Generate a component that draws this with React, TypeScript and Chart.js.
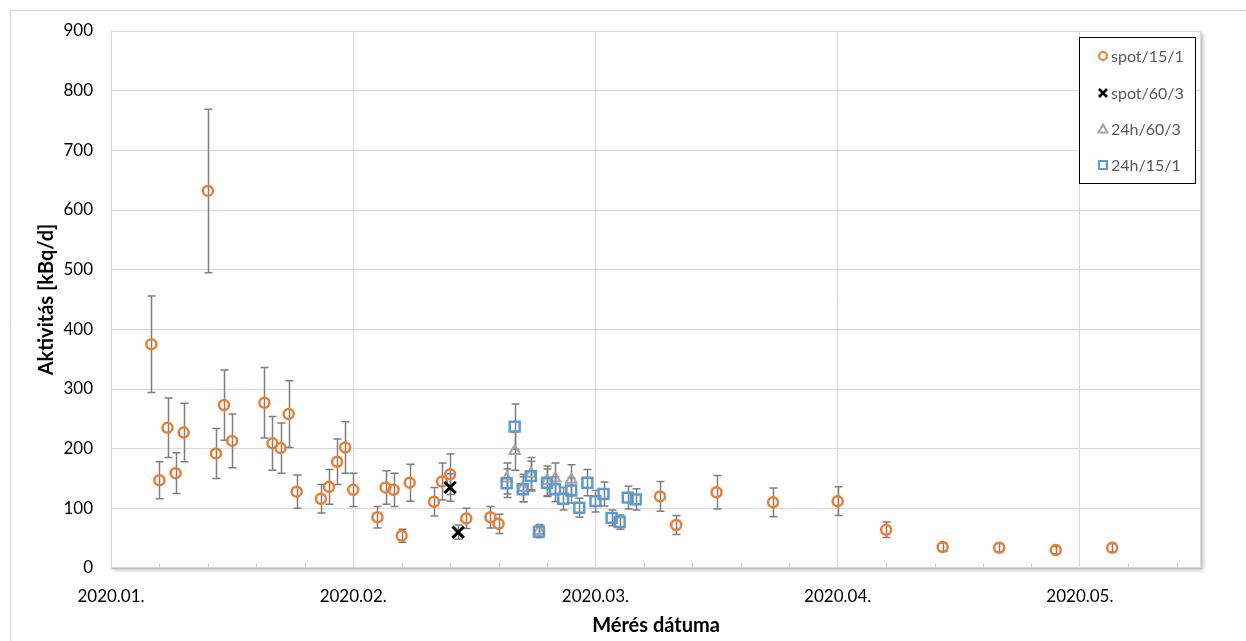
import { useEffect, useRef } from "react";
import { Chart, registerables } from "chart.js";

Chart.register(...registerables);

// ---- measurement data -------------------------------------------------------

// spot/15/1 samples
const spotShortDates = [
  "2020-01-07", "2020-01-08", "2020-01-09", "2020-01-10", "2020-01-11",
  "2020-01-14", "2020-01-15", "2020-01-16", "2020-01-17",
  "2020-01-21", "2020-01-22", "2020-01-23", "2020-01-24", "2020-01-25",
  "2020-01-28", "2020-01-29", "2020-01-30", "2020-01-31", "2020-02-01",
  "2020-02-04", "2020-02-05", "2020-02-06", "2020-02-07", "2020-02-08",
  "2020-02-11", "2020-02-12", "2020-02-13", "2020-02-15",
  "2020-02-18", "2020-02-19",
  "2020-03-10", "2020-03-12", "2020-03-17", "2020-03-24",
  "2020-04-01", "2020-04-07", "2020-04-14", "2020-04-21", "2020-04-28", "2020-05-05",
];
const spotShortValues = [
  375, 147, 235, 159, 227,
  632, 192, 273, 213,
  277, 209, 201, 258, 128,
  116, 136, 178, 202, 131,
  85, 135, 131, 54, 143,
  111, 145, 157, 83,
  85, 74,
  120, 72, 127, 110,
  112, 64, 35, 34, 30, 34,
];
const spotShortErrors = [
  81, 31, 50, 34, 49,
  137, 42, 59, 45,
  59, 45, 42, 56, 28,
  24, 29, 38, 43, 28,
  18, 28, 28, 11, 31,
  24, 31, 34, 17,
  18, 16,
  25, 16, 28, 24,
  24, 13, 7, 7, 6, 7,
];

// spot/60/3 samples
const spotLongDates = ["2020-02-13", "2020-02-14"];
const spotLongValues = [135, 60];
const spotLongErrors = [23, 12];

// 24h/60/3 samples
const dayLongDates = [
  "2020-02-20", "2020-02-21", "2020-02-22", "2020-02-23",
  "2020-02-24", "2020-02-25", "2020-02-26", "2020-02-28",
];
const dayLongValues = [150, 196, 134, 158, 62, 146, 150, 148];
const dayLongErrors = [26, 32, 23, 27, 11, 25, 26, 25];

// 24h/15/1 samples
const dayShortDates = [
  "2020-02-20", "2020-02-21", "2020-02-22", "2020-02-23", "2020-02-24",
  "2020-02-25", "2020-02-26", "2020-02-27", "2020-02-28", "2020-02-29",
  "2020-03-01", "2020-03-02", "2020-03-03", "2020-03-04", "2020-03-05",
  "2020-03-06", "2020-03-07",
];
const dayShortValues = [142, 237, 132, 154, 61, 143, 132, 116, 130, 101, 143, 112, 124, 84, 77, 118, 115];
const dayShortErrors = [24, 38, 21, 25, 10, 23, 21, 19, 21, 16, 22, 18, 20, 13, 12, 19, 18];

// axes
const xAxisStart = "2020-01-02";
const xAxisEnd = "2020-05-16";
const xTickDates = ["2020-01-02", "2020-02-01", "2020-03-02", "2020-04-01", "2020-05-01"];
const xTickLabels = ["2020.01.", "2020.02.", "2020.03.", "2020.04.", "2020.05."];
const xMinorStepDays = 6;
const yTickValues = [0, 100, 200, 300, 400, 500, 600, 700, 800, 900];

const seriesNames = ["spot/15/1", "spot/60/3", "24h/60/3", "24h/15/1"];

// ---- helpers ----------------------------------------------------------------

const DAY_MS = 86400000;
const EPOCH = Date.UTC(2020, 0, 1);
const toDay = (iso: string) => {
  const [y, m, d] = iso.split("-").map(Number);
  return (Date.UTC(y, m - 1, d) - EPOCH) / DAY_MS;
};
const points = (dates: string[], values: number[]) =>
  dates.map((d, i) => ({ x: toDay(d), y: values[i] }));

const FONT = "Lato, 'Open Sans', sans-serif";
const ORANGE = "#ED7D31";
const BLUE = "#5B9BD5";
const GREY = "#A5A5A5";
const BLACK = "#000000";

type Marker = "circle" | "crossRot" | "triangle" | "rect";

function drawLegendMarker(ctx: CanvasRenderingContext2D, kind: Marker, x: number, y: number, color: string) {
  ctx.save();
  ctx.strokeStyle = color;
  ctx.lineWidth = 2;
  ctx.beginPath();
  if (kind === "circle") {
    ctx.arc(x, y, 4, 0, Math.PI * 2);
  } else if (kind === "crossRot") {
    ctx.lineWidth = 2.5;
    ctx.moveTo(x - 4, y - 4);
    ctx.lineTo(x + 4, y + 4);
    ctx.moveTo(x + 4, y - 4);
    ctx.lineTo(x - 4, y + 4);
  } else if (kind === "triangle") {
    ctx.moveTo(x, y - 4.5);
    ctx.lineTo(x + 4.5, y + 3.5);
    ctx.lineTo(x - 4.5, y + 3.5);
    ctx.closePath();
  } else {
    ctx.rect(x - 4, y - 4, 8, 8);
  }
  ctx.stroke();
  ctx.restore();
}

// ---- chart plugins -----------------------------------------------------------

const framePlugin = {
  id: "frame",
  beforeDraw(chart: any) {
    const { ctx, chartArea: a, width, height } = chart;
    ctx.save();
    ctx.fillStyle = "#ffffff";
    ctx.fillRect(0, 0, width, height);
    // outer chart border
    ctx.strokeStyle = "#d9d9d9";
    ctx.lineWidth = 1;
    ctx.beginPath();
    ctx.moveTo(10.5, height);
    ctx.lineTo(10.5, 10.5);
    ctx.lineTo(width, 10.5);
    ctx.stroke();
    // plot area with soft shadow
    ctx.shadowColor = "rgba(0,0,0,0.28)";
    ctx.shadowBlur = 4;
    ctx.shadowOffsetX = 1.5;
    ctx.shadowOffsetY = 1.5;
    ctx.fillRect(a.left, a.top, a.right - a.left, a.bottom - a.top);
    ctx.restore();
  },
  beforeDatasetsDraw(chart: any) {
    const { ctx, chartArea: a, scales } = chart;
    const x = scales.x;
    const y = scales.y;
    ctx.save();
    // plot border
    ctx.strokeStyle = "#d9d9d9";
    ctx.lineWidth = 1;
    ctx.strokeRect(a.left + 0.5, a.top + 0.5, a.right - a.left - 1, a.bottom - a.top - 1);
    // minor tick marks on the date axis
    ctx.strokeStyle = "#cfcfcf";
    const start = toDay(xAxisStart);
    const end = toDay(xAxisEnd);
    for (let k = 1; start + k * xMinorStepDays < end; k++) {
      if (k % 5 === 0) continue;
      const px = Math.round(x.getPixelForValue(start + k * xMinorStepDays)) + 0.5;
      ctx.beginPath();
      ctx.moveTo(px, a.bottom);
      ctx.lineTo(px, a.bottom - 5);
      ctx.stroke();
    }
    // error bars
    ctx.strokeStyle = "#7f7f7f";
    ctx.lineWidth = 1.5;
    chart.data.datasets.forEach((ds: any) => {
      const errs: number[] | undefined = ds.errorBars;
      if (!errs) return;
      ds.data.forEach((p: { x: number; y: number }, i: number) => {
        const px = Math.round(x.getPixelForValue(p.x)) + 0.5;
        const top = y.getPixelForValue(p.y + errs[i]);
        const bot = y.getPixelForValue(Math.max(0, p.y - errs[i]));
        ctx.beginPath();
        ctx.moveTo(px, top);
        ctx.lineTo(px, bot);
        ctx.moveTo(px - 4, top);
        ctx.lineTo(px + 4, top);
        ctx.moveTo(px - 4, bot);
        ctx.lineTo(px + 4, bot);
        ctx.stroke();
      });
    });
    ctx.restore();
  },
  afterDraw(chart: any) {
    const { ctx, chartArea: a } = chart;
    ctx.save();
    // axis titles
    ctx.fillStyle = "#000000";
    ctx.font = `bold 20px ${FONT}`;
    ctx.textAlign = "center";
    ctx.textBaseline = "alphabetic";
    ctx.fillText("Mérés dátuma", (a.left + a.right) / 2, 632);
    ctx.save();
    ctx.translate(53, (a.top + a.bottom) / 2);
    ctx.rotate(-Math.PI / 2);
    ctx.fillText("Aktivitás [kBq/d]", 0, 0);
    ctx.restore();

    // legend box
    const bx = 1079.5;
    const by = 37.5;
    const bw = 116;
    const bh = 146;
    ctx.fillStyle = "#ffffff";
    ctx.fillRect(bx, by, bw, bh);
    ctx.strokeStyle = "#000000";
    ctx.lineWidth = 1;
    ctx.strokeRect(bx, by, bw, bh);
    const markers: Marker[] = ["circle", "crossRot", "triangle", "rect"];
    const colors = [ORANGE, BLACK, GREY, BLUE];
    const rows = [56, 93, 129, 165];
    ctx.font = `16px ${FONT}`;
    ctx.textAlign = "left";
    ctx.textBaseline = "middle";
    seriesNames.forEach((name, i) => {
      drawLegendMarker(ctx, markers[i], 1103, rows[i], colors[i]);
      ctx.fillStyle = "#595959";
      ctx.fillText(name, 1111, rows[i] + 1);
    });
    ctx.restore();
  },
};

// ---- component ----------------------------------------------------------------

export default function App() {
  const canvasRef = useRef<HTMLCanvasElement | null>(null);

  useEffect(() => {
    document.body.style.margin = "0";
    const canvas = canvasRef.current;
    if (!canvas) return;

    const chart = new Chart(canvas, {
      type: "scatter",
      data: {
        datasets: [
          {
            label: seriesNames[3],
            data: points(dayShortDates, dayShortValues),
            errorBars: dayShortErrors,
            pointStyle: "rect",
            pointRadius: 7,
            borderColor: BLUE,
            backgroundColor: "rgba(0,0,0,0)",
            borderWidth: 2.5,
            order: 0,
          } as any,
          {
            label: seriesNames[2],
            data: points(dayLongDates, dayLongValues),
            errorBars: dayLongErrors,
            pointStyle: "triangle",
            pointRadius: 6,
            borderColor: GREY,
            backgroundColor: "rgba(0,0,0,0)",
            borderWidth: 2,
            order: 1,
          } as any,
          {
            label: seriesNames[1],
            data: points(spotLongDates, spotLongValues),
            errorBars: spotLongErrors,
            pointStyle: "crossRot",
            pointRadius: 8,
            borderColor: BLACK,
            backgroundColor: BLACK,
            borderWidth: 3,
            order: 2,
          } as any,
          {
            label: seriesNames[0],
            data: points(spotShortDates, spotShortValues),
            errorBars: spotShortErrors,
            pointStyle: "circle",
            pointRadius: 5,
            borderColor: ORANGE,
            backgroundColor: "rgba(0,0,0,0)",
            borderWidth: 2.5,
            order: 3,
          } as any,
        ],
      },
      options: {
        responsive: false,
        animation: false,
        layout: { padding: { left: 0, top: 31, right: 45, bottom: 0 } },
        plugins: {
          legend: { display: false },
          tooltip: { enabled: false },
        },
        elements: { point: { hoverRadius: 5 } },
        scales: {
          x: {
            type: "linear",
            min: toDay(xAxisStart),
            max: toDay(xAxisEnd),
            afterBuildTicks: (scale: any) => {
              scale.ticks = xTickDates.map((d) => ({ value: toDay(d) }));
            },
            afterFit: (scale: any) => {
              scale.height = 73;
            },
            ticks: {
              autoSkip: false,
              maxRotation: 0,
              padding: 18,
              color: "#000000",
              font: { family: FONT, size: 17 },
              callback: (value: any) => {
                const idx = xTickDates.findIndex((d) => toDay(d) === value);
                return idx >= 0 ? xTickLabels[idx] : "";
              },
            },
            grid: { color: "#d9d9d9", lineWidth: 1, drawTicks: false },
            border: { color: "#bfbfbf", width: 1 },
          },
          y: {
            type: "linear",
            min: 0,
            max: 900,
            afterBuildTicks: (scale: any) => {
              scale.ticks = yTickValues.map((v) => ({ value: v }));
            },
            afterFit: (scale: any) => {
              scale.width = 111;
            },
            ticks: {
              padding: 18,
              color: "#000000",
              font: { family: FONT, size: 17 },
            },
            grid: { color: "#d9d9d9", lineWidth: 1, drawTicks: false },
            border: { color: "#d9d9d9", width: 1 },
          },
        },
      },
      plugins: [framePlugin],
    } as any);

    return () => chart.destroy();
  }, []);

  return (
    <div style={{ width: 1246, height: 641 }}>
      <canvas ref={canvasRef} width={1246} height={641} />
    </div>
  );
}
